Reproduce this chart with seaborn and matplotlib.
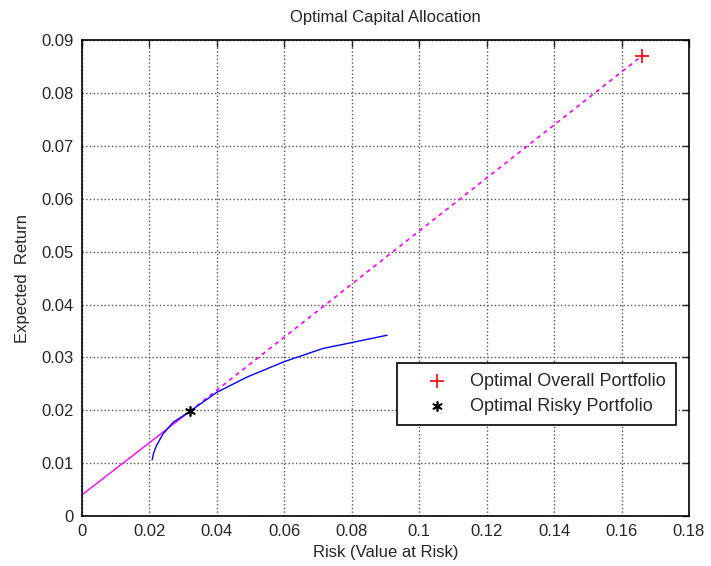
import numpy as np
import pandas as pd
import matplotlib
matplotlib.use("Agg")
import matplotlib.pyplot as plt
import seaborn as sns

# efficient frontier (risk = VaR, expected return)
frontier_risk = [0.0208, 0.0212, 0.0220, 0.0240, 0.0270, 0.0320, 0.0400,
                 0.0490, 0.0600, 0.0715, 0.0800, 0.0905]
frontier_ret = [0.0106, 0.0118, 0.0132, 0.0155, 0.0177, 0.0198, 0.0234,
                0.0263, 0.0292, 0.0317, 0.0328, 0.0342]

# capital allocation line
risk_free = 0.004
risky_pt = (0.0320, 0.0198)
overall_pt = (0.1662, 0.0871)

sns.set_style("white")
plt.rcParams['font.family'] = ['Liberation Sans', 'DejaVu Sans']

fig = plt.figure(figsize=(7.11, 5.66), dpi=100)
ax = fig.add_axes([0.1153, 0.0883, 0.8537, 0.8407])

frontier = pd.DataFrame({'risk': frontier_risk, 'ret': frontier_ret})
cal_solid = pd.DataFrame({'risk': [0.0, risky_pt[0]], 'ret': [risk_free, risky_pt[1]]})
cal_dash = pd.DataFrame({'risk': [risky_pt[0], overall_pt[0]], 'ret': [risky_pt[1], overall_pt[1]]})

sns.lineplot(data=cal_solid, x='risk', y='ret', color='magenta', lw=1, sort=False, ax=ax)
sns.lineplot(data=cal_dash, x='risk', y='ret', color='magenta', lw=1.2, sort=False,
             linestyle=(0, (2.5, 2.5)), ax=ax)
sns.lineplot(data=frontier, x='risk', y='ret', color='blue', lw=1, sort=False, ax=ax)

sns.scatterplot(x=[overall_pt[0]], y=[overall_pt[1]], marker='+', color='red', s=110,
                linewidth=1.2, label='Optimal Overall Portfolio', ax=ax, zorder=5)
sns.scatterplot(x=[risky_pt[0]], y=[risky_pt[1]], marker=(6, 2, 0), color='black', s=45,
                linewidth=1.2, label='Optimal Risky Portfolio', ax=ax, zorder=5)

ax.set_xlim(0, 0.18)
ax.set_ylim(0, 0.09)
ax.set_xticks(np.arange(0, 0.181, 0.02))
ax.set_yticks(np.arange(0, 0.091, 0.01))
ax.set_xticklabels(['0', '0.02', '0.04', '0.06', '0.08', '0.1', '0.12', '0.14', '0.16', '0.18'])
ax.set_yticklabels(['0', '0.01', '0.02', '0.03', '0.04', '0.05', '0.06', '0.07', '0.08', '0.09'])
ax.tick_params(direction='in', top=True, right=True, length=5, width=1, labelsize=12, pad=6)
ax.grid(True, color='#555555', linestyle=':', linewidth=1)
for sp in ax.spines.values():
    sp.set_color('black')
    sp.set_linewidth(1.2)

ax.set_title('Optimal Capital Allocation', fontsize=12, pad=13)
ax.set_xlabel('Risk (Value at Risk)', fontsize=12, labelpad=4)
ax.set_ylabel('Expected  Return', fontsize=12, labelpad=8)

leg = ax.legend(loc='lower right', bbox_to_anchor=(0.978, 0.191), fontsize=13,
                frameon=True, fancybox=False, framealpha=1, edgecolor='black',
                handletextpad=0.2, borderpad=0.55, labelspacing=0.45, handlelength=3.3,
                borderaxespad=0)
leg.get_frame().set_linewidth(1.2)

fig.savefig('out.png', dpi=100)
